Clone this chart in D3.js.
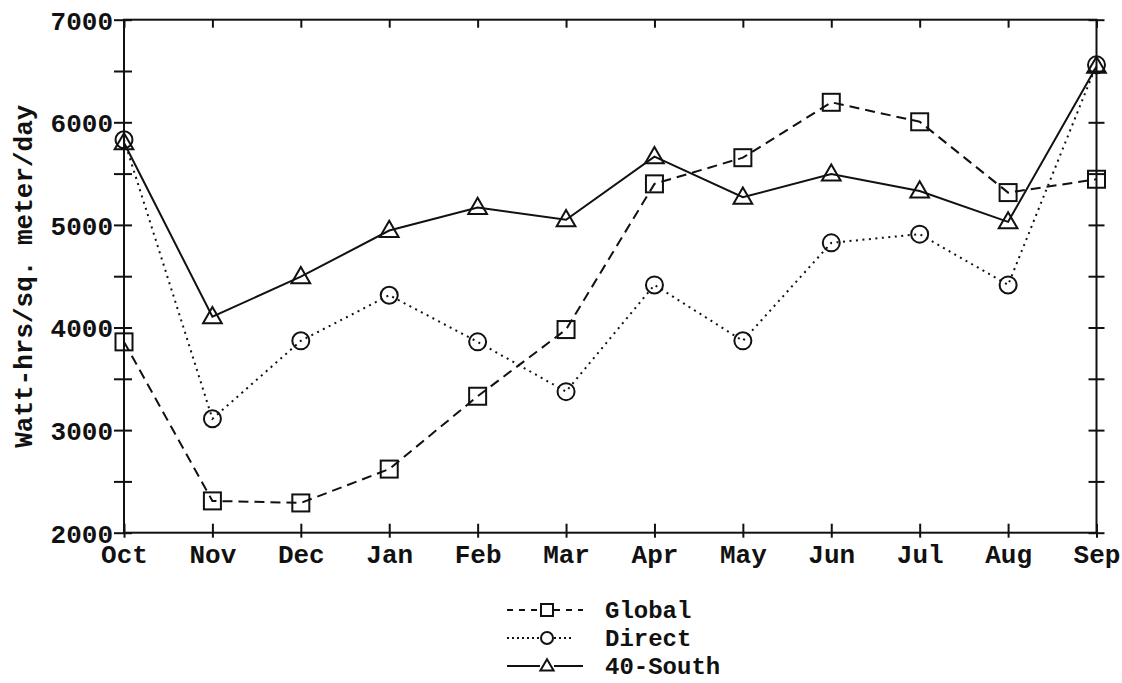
<!DOCTYPE html>
<html>
<head>
<meta charset="utf-8">
<script src="https://cdn.jsdelivr.net/npm/d3@7/dist/d3.min.js"></script>
<style>
  html, body { margin: 0; padding: 0; background: #fff; }
  svg { display: block; }
  text { font-family: "Liberation Mono", "Courier New", monospace; font-weight: bold; fill: #111; }
</style>
</head>
<body>
<svg id="chart" width="1122" height="683"></svg>
<script>
// Monthly solar energy, Watt-hrs per square meter per day
const months = ["Oct", "Nov", "Dec", "Jan", "Feb", "Mar", "Apr", "May", "Jun", "Jul", "Aug", "Sep"];
const globalVals = [3860, 2310, 2290, 2620, 3330, 3980, 5400, 5655, 6195, 6005, 5315, 5445];
const directVals = [5830, 3110, 3870, 4315, 3860, 3375, 4415, 3870, 4825, 4910, 4415, 6560];
const southVals  = [5800, 4105, 4495, 4945, 5170, 5050, 5665, 5270, 5495, 5330, 5030, 6545];
const yTicks = [2000, 2500, 3000, 3500, 4000, 4500, 5000, 5500, 6000, 6500, 7000];
const seriesNames = ["Global", "Direct", "40-South"];

const ink = "#111";
const svg = d3.select("#chart");
svg.append("rect").attr("width", 1122).attr("height", 683).attr("fill", "#fff");

const plotLeft = 124, plotRight = 1096.5, plotTop = 19.7, plotBottom = 532.7;
const x = d3.scalePoint().domain(months).range([plotLeft, plotRight]);
const y = d3.scaleLinear().domain([2000, 7000]).range([plotBottom, plotTop]);

const g = svg.append("g");

// Frame
g.append("rect")
  .attr("x", plotLeft).attr("y", plotTop)
  .attr("width", plotRight - plotLeft).attr("height", plotBottom - plotTop)
  .attr("fill", "none").attr("stroke", ink).attr("stroke-width", 2);

// Left axis: ticks crossing the axis, labels on the thousands
const yAxisL = g.append("g").attr("transform", `translate(${plotLeft},0)`)
  .call(d3.axisLeft(y).tickValues(yTicks).tickFormat(d => d % 1000 === 0 ? d : ""));
yAxisL.select(".domain").remove();
yAxisL.selectAll(".tick line").attr("x1", -10).attr("x2", 8).attr("stroke", ink).attr("stroke-width", 2);
yAxisL.selectAll(".tick text").attr("x", -11).attr("dy", "0.36em")
  .style("font-size", "26px").style("font-family", "'Liberation Mono', monospace").style("font-weight", "bold");

// Right axis: ticks only
const yAxisR = g.append("g").attr("transform", `translate(${plotRight},0)`)
  .call(d3.axisRight(y).tickValues(yTicks).tickFormat(""));
yAxisR.select(".domain").remove();
yAxisR.selectAll(".tick line").attr("x1", -8).attr("x2", 8).attr("stroke", ink).attr("stroke-width", 2);

// Bottom axis with month labels
const xAxisB = g.append("g").attr("transform", `translate(0,${plotBottom})`)
  .call(d3.axisBottom(x));
xAxisB.select(".domain").remove();
xAxisB.selectAll(".tick line").attr("y1", -9).attr("y2", 5).attr("stroke", ink).attr("stroke-width", 2);
xAxisB.selectAll(".tick text").attr("y", 30).attr("dy", 0)
  .style("font-size", "26px").style("font-family", "'Liberation Mono', monospace").style("font-weight", "bold");

// Top axis: inward ticks only
const xAxisT = g.append("g").attr("transform", `translate(0,${plotTop})`)
  .call(d3.axisTop(x).tickFormat(""));
xAxisT.select(".domain").remove();
xAxisT.selectAll(".tick line").attr("y1", 0).attr("y2", 8).attr("stroke", ink).attr("stroke-width", 2);

// Axis title
svg.append("text")
  .attr("transform", `translate(32,${(plotTop + plotBottom) / 2}) rotate(-90)`)
  .attr("text-anchor", "middle")
  .style("font-size", "26px")
  .text("Watt-hrs/sq. meter/day");

// Series
const series = [
  { name: seriesNames[0], values: globalVals, dash: "10,6", marker: "square" },
  { name: seriesNames[1], values: directVals, dash: "2,4.5", marker: "circle" },
  { name: seriesNames[2], values: southVals, dash: null, marker: "triangle" }
];

const line = d3.line().x((d, i) => x(months[i])).y(d => y(d));

function drawMarker(sel, type, cx, cy, s) {
  if (type === "square") {
    sel.append("rect").attr("x", cx - s / 2).attr("y", cy - s / 2).attr("width", s).attr("height", s)
      .attr("fill", "none").attr("stroke", ink).attr("stroke-width", 2);
  } else if (type === "circle") {
    sel.append("circle").attr("cx", cx).attr("cy", cy).attr("r", s / 2)
      .attr("fill", "none").attr("stroke", ink).attr("stroke-width", 2);
  } else {
    const w = s * 1.1, h = s * 0.95;
    sel.append("path")
      .attr("d", `M${cx},${cy - h * 0.6}L${cx + w / 2},${cy + h * 0.4}L${cx - w / 2},${cy + h * 0.4}Z`)
      .attr("fill", "none").attr("stroke", ink).attr("stroke-width", 2).attr("stroke-linejoin", "miter");
  }
}

series.forEach(s => {
  const p = g.append("path").datum(s.values)
    .attr("d", line).attr("fill", "none").attr("stroke", ink).attr("stroke-width", 2);
  if (s.dash) p.attr("stroke-dasharray", s.dash);
});
series.forEach(s => {
  const mg = g.append("g");
  s.values.forEach((v, i) => drawMarker(mg, s.marker, x(months[i]), y(v), 17));
});

// Legend
const legendRows = [610, 638, 666];
const leg = svg.append("g");
series.forEach((s, i) => {
  const cy = legendRows[i];
  const lx0 = 507, lx1 = i === 1 ? 572 : 583, sx = 547, half = 7;
  [[lx0, sx - half], [sx + half, lx1]].forEach(([a, b]) => {
    const l = leg.append("line").attr("x1", a).attr("x2", b).attr("y1", cy).attr("y2", cy)
      .attr("stroke", ink).attr("stroke-width", 2);
    if (s.dash) l.attr("stroke-dasharray", i === 0 ? "6,6" : "2,3");
  });
  drawMarker(leg, s.marker, sx, cy, 12);
  leg.append("text").attr("x", 605).attr("y", cy + 8)
    .style("font-size", "24px").text(s.name);
});
</script>
</body>
</html>
